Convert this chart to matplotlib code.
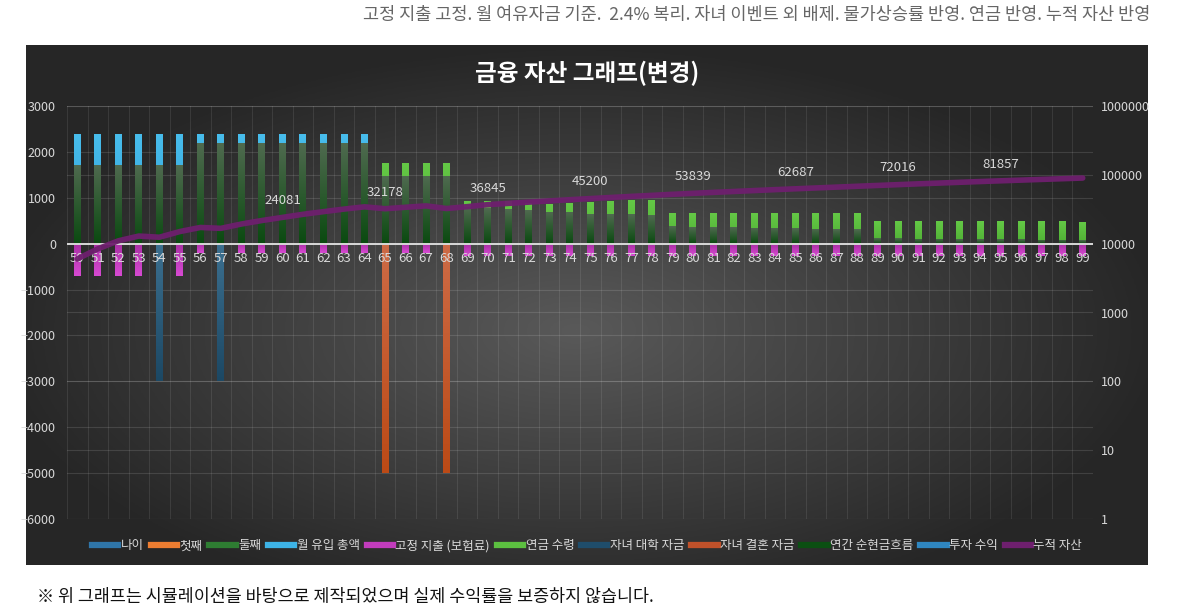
import numpy as np
import matplotlib
matplotlib.use("Agg")
import matplotlib.pyplot as plt
from matplotlib.colors import to_rgba
from matplotlib.lines import Line2D
from matplotlib.ticker import FuncFormatter

plt.rcParams['font.family'] = ['Noto Sans CJK KR', 'DejaVu Sans']

# ---- data ----
ages = list(range(50, 100))

inflow = [2400] * 15 + [0] * 35                              # 월 유입 총액
fixed_cost = [-700] * 6 + [-210] * 13 + [-260] * 31          # 고정 지출 (보험료)
pension = ([0] * 15 + [1750] * 4
           + [940, 940, 925, 890, 865, 880, 915, 940, 950, 960]
           + [670] * 10 + [490] * 10 + [470])                 # 연금 수령
college = [0] * 4 + [-3000] + [0] * 2 + [-3000] + [0] * 42   # 자녀 대학 자금
wedding = [0] * 15 + [-5000] + [0] * 2 + [-5000] + [0] * 31  # 자녀 결혼 자금
net_flow = ([1720] * 6 + [2200] * 9 + [1480] * 4
            + [800, 780, 760, 730, 700, 700, 650, 650, 640, 630]
            + [380, 370, 360, 355, 350, 350, 340, 330, 320, 310]
            + [120, 115, 110, 110, 105, 100, 100, 95, 90, 90, 85])  # 연간 순현금흐름
assets = [6000, 8400, 11000, 12900, 12400, 15000, 17200, 16700, 19300, 21700,
          24081, 26700, 29200, 31800, 34300, 32178, 33800, 35400, 32400, 34500,
          36845, 38500, 40100, 41800, 43500, 45200, 46900, 48600, 50300, 52100,
          53839, 55600, 57300, 59100, 60900, 62687, 64500, 66300, 68200, 70100,
          72016, 74000, 75900, 77900, 79900, 81857, 83800, 85800, 87800, 89800]  # 누적 자산
label_ages = [60, 65, 70, 75, 80, 85, 90, 95]

legend_names = ['나이', '첫째', '둘째', '월 유입 총액', '고정 지출 (보험료)', '연금 수령',
                '자녀 대학 자금', '자녀 결혼 자금', '연간 순현금흐름', '투자 수익', '누적 자산']
legend_colors = ['#2f75a8', '#ed7d31', '#2e7d32', '#3db3e6', '#c23cbd', '#5cc040',
                 '#1f4d6b', '#c0512a', '#0b4f12', '#2f86c0', '#6e1f6e']

W, H = 1179, 613
fig = plt.figure(figsize=(W / 100, H / 100), dpi=100)
fig.patch.set_facecolor('white')

# dark chart box with a soft radial glow
bg = fig.add_axes([26 / W, 1 - 565 / H, 1122 / W, 520 / H])
gx, gy = np.meshgrid(np.linspace(-1, 1, 400), np.linspace(-1, 1, 200))
r = np.sqrt(((gx + 0.02) / 1.05) ** 2 + ((gy + 0.1) / 1.1) ** 2)
shade = np.clip(0.35 - 0.2 * r, 0.15, 0.35)
bg.imshow(np.dstack([shade] * 3), aspect='auto', extent=(0, 1, 0, 1), origin='lower')
bg.set_axis_off()

ax = fig.add_axes([67 / W, 1 - 519 / H, (1093 - 67) / W, (519 - 106) / H])
ax.set_facecolor('none')
ax2 = ax.twinx()


def gradient_bars(values, top_color, bottom_color, z, width=0.34):
    bars = ax.bar(ages, values, width=width, color='none', zorder=z)
    c_top = np.array(to_rgba(top_color))
    c_bot = np.array(to_rgba(bottom_color))
    t = np.linspace(0, 1, 64)[:, None]
    grad = (c_bot * (1 - t) + c_top * t)[:, None, :]
    for p in bars.patches:
        h = p.get_height()
        if h == 0:
            continue
        y0, y1 = sorted([p.get_y(), p.get_y() + h])
        im = ax.imshow(grad, origin='lower', aspect='auto', zorder=z,
                       extent=(p.get_x(), p.get_x() + p.get_width(), y0, y1))
        im.set_clip_path(p)


# gridlines behind bars
for xb in np.arange(49.5, 100.5, 1):
    ax.axvline(xb, color='white', alpha=0.09, lw=0.8, zorder=0)
for yv in list(range(-6000, 3001, 1000)) + list(np.linspace(-6000, 3000, 7)):
    ax.axhline(yv, color='white', alpha=0.12, lw=0.8, zorder=0)

# overlapped columns, drawn in series order
gradient_bars(inflow, '#48bdec', '#2f9fd6', 2)
gradient_bars(fixed_cost, '#a82fa3', '#d74ad2', 2)
gradient_bars(pension, '#64c846', '#4fae34', 2)
gradient_bars(college, '#3c7090', '#1c4864', 3)
gradient_bars(wedding, '#cd6b46', '#bb4a16', 3)
gradient_bars(net_flow, '#4f6a4f', '#0a4a10', 4)

ax.axhline(0, color='#d8d8d8', lw=1.4, zorder=5)

ax.set_xlim(49.5, 99.5)
ax.set_ylim(-6000, 3000)
ax.set_yticks(range(-6000, 3001, 1000))
ax.set_xticks([])
ax.tick_params(axis='y', length=0, pad=8, labelsize=9, labelcolor='#d9d9d9')
for s in ax.spines.values():
    s.set_visible(False)

for a in ages:
    ax.annotate(str(a), (a, 0), xytext=(0, -11), textcoords='offset points',
                ha='center', va='center', fontsize=9.5, color='#d9d9d9', zorder=6)

# accumulated assets on log axis
ax2.plot(ages, assets, color='#6e1f6e', lw=4, alpha=0.95, solid_capstyle='round')
ax2.set_yscale('log')
ax2.set_ylim(1, 1e6)
ax2.set_yticks([10 ** k for k in range(7)])
ax2.yaxis.set_major_formatter(FuncFormatter(lambda v, p: f'{int(round(v))}'))
ax2.yaxis.set_minor_locator(matplotlib.ticker.NullLocator())
ax2.tick_params(axis='y', length=0, pad=6, labelsize=9, labelcolor='#d9d9d9')
for s in ax2.spines.values():
    s.set_visible(False)
for a in label_ages:
    v = assets[ages.index(a)]
    ax2.annotate(str(v), (a, v), xytext=(0, 12), textcoords='offset points',
                 ha='center', va='center', fontsize=9.5, color='#d9d9d9')

handles = [Line2D([], [], color=c, lw=4.5) for c in legend_colors]
fig.legend(handles, legend_names, loc='center', bbox_to_anchor=(0.498, 1 - 546 / H),
           ncol=11, frameon=False, fontsize=9, labelcolor='#d9d9d9',
           handlelength=2.1, handletextpad=0.2, columnspacing=0.55)

fig.text(0.498, 1 - 73 / H, '금융 자산 그래프(변경)', ha='center', va='center',
         fontsize=17, fontweight='bold', color='white')
fig.text(1150 / W, 1 - 15 / H,
         '고정 지출 고정. 월 여유자금 기준.  2.4% 복리. 자녀 이벤트 외 배제. 물가상승률 반영. 연금 반영. 누적 자산 반영',
         ha='right', va='center', fontsize=12.6, color='#666666')
fig.text(37 / W, 1 - 597 / H,
         '※ 위 그래프는 시뮬레이션을 바탕으로 제작되었으며 실제 수익률을 보증하지 않습니다.',
         ha='left', va='center', fontsize=12.5, color='#111111')

fig.savefig('out.png', dpi=100)
